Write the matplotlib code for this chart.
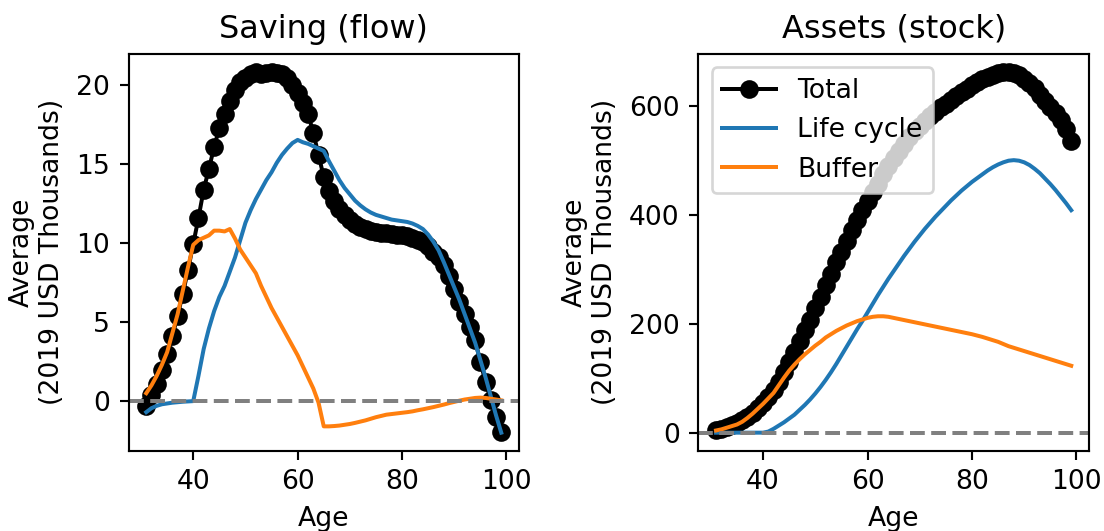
import matplotlib
matplotlib.use("Agg")
import matplotlib.pyplot as plt

ages = list(range(31, 100))

saving_total = [-0.3, 0.4, 1.1, 2.0, 3.0, 4.1, 5.4, 6.8, 8.3, 9.95,
                11.6, 13.4, 14.7, 16.1, 17.3, 18.2, 19.0, 19.7, 20.2, 20.5,
                20.75, 20.85, 20.75, 20.8, 20.85, 20.8, 20.7, 20.45, 20.05, 19.5,
                18.9, 18.2, 17.0, 15.6, 14.2, 13.3, 12.7, 12.2, 11.8, 11.5,
                11.25, 11.05, 10.9, 10.8, 10.72, 10.66, 10.62, 10.58, 10.55, 10.5,
                10.45, 10.35, 10.2, 10.05, 9.8, 9.45, 9.1, 8.6, 7.9, 7.1,
                6.3, 5.5, 4.7, 3.85, 2.5, 1.2, 0.1, -1.0, -1.95]

saving_lifecycle = [-0.7, -0.45, -0.3, -0.2, -0.15, -0.1, -0.07, -0.04, -0.02, 0.0,
                    1.6, 3.3, 4.6, 5.7, 6.6, 7.3, 8.2, 9.1, 10.2, 11.3,
                    12.1, 12.8, 13.4, 14.0, 14.5, 15.1, 15.6, 16.0, 16.35, 16.55,
                    16.4, 16.3, 16.15, 16.0, 15.85, 15.2, 14.6, 14.0, 13.5, 13.1,
                    12.7, 12.4, 12.15, 11.95, 11.8, 11.7, 11.6, 11.5, 11.45, 11.4,
                    11.35, 11.25, 11.1, 10.9, 10.55, 10.1, 9.55, 8.8, 8.0, 7.2,
                    6.4, 5.5, 4.6, 3.7, 2.6, 1.5, 0.3, -0.9, -2.0]

saving_buffer = [0.5, 1.0, 1.6, 2.3, 3.1, 4.3, 5.5, 7.0, 8.5, 9.9,
                 10.2, 10.35, 10.5, 10.8, 10.8, 10.75, 10.9, 10.3, 9.6, 9.1,
                 8.6, 8.1, 7.3, 6.6, 5.9, 5.3, 4.7, 4.1, 3.5, 2.9,
                 2.2, 1.5, 0.8, -0.1, -1.6, -1.6, -1.58, -1.55, -1.5, -1.45,
                 -1.38, -1.3, -1.22, -1.12, -1.02, -0.94, -0.86, -0.82, -0.78, -0.74,
                 -0.7, -0.65, -0.58, -0.52, -0.45, -0.38, -0.3, -0.22, -0.13, -0.05,
                 0.03, 0.1, 0.15, 0.2, 0.22, 0.2, 0.15, 0.1, 0.05]

assets_total = [4, 7, 10, 14, 18, 23, 29, 37, 46, 55,
                66, 79, 94, 111, 130, 149, 168, 188, 208, 229,
                250, 271, 292, 313, 333, 352, 372, 391, 409, 426,
                442, 458, 476, 491, 505, 518, 531, 543, 554, 564,
                573, 582, 590, 598, 605, 612, 619, 626, 632, 639,
                645, 650, 654, 658, 661, 663, 663, 661, 657, 651,
                643, 633, 621, 609, 598, 587, 574, 558, 537]

assets_lifecycle = [0, 0, 0, 0, 0, 0, 0, 0, 0, 0,
                    2, 7, 13, 19, 26, 33, 42, 51, 61, 72,
                    84, 97, 111, 126, 142, 158, 174, 190, 205, 221,
                    237, 253, 268, 283, 297, 311, 325, 338, 351, 363,
                    375, 386, 397, 407, 417, 427, 436, 445, 453, 461,
                    468, 475, 482, 488, 493, 497, 500, 501, 500, 497,
                    492, 485, 477, 467, 457, 446, 434, 422, 409]

assets_buffer = [4, 6, 9, 12, 15, 20, 27, 35, 44, 53,
                 63, 73, 87, 101, 114, 125, 135, 144, 152, 160,
                 167, 175, 181, 187, 192, 197, 201, 205, 208, 211,
                 213, 214, 214, 213, 211, 209, 207, 205, 203, 201,
                 199, 197, 195, 193, 191, 189, 187, 185, 183, 181,
                 178.5, 176, 173, 170, 167, 163, 159, 156, 153, 150,
                 147, 144, 141, 138, 135, 132, 129, 126, 123]

titles = ["Saving (flow)", "Assets (stock)"]
ylabel = "Average\n(2019 USD Thousands)"
xlabel = "Age"
legend_labels = ["Total", "Life cycle", "Buffer"]

DPI = 192
fig = plt.figure(figsize=(1104 / DPI, 531 / DPI), dpi=DPI)
ax1 = fig.add_axes([128.5 / 1104, 1 - 450.7 / 531, (519 - 128.5) / 1104, (450.7 - 54) / 531])
ax2 = fig.add_axes([698.3 / 1104, 1 - 450.7 / 531, (1089 - 698.3) / 1104, (450.7 - 54) / 531])

for ax, tot, lc, buf, title in [
    (ax1, saving_total, saving_lifecycle, saving_buffer, titles[0]),
    (ax2, assets_total, assets_lifecycle, assets_buffer, titles[1]),
]:
    ax.plot(ages, tot, "o-", color="black", label=legend_labels[0])
    ax.plot(ages, lc, color="#1f77b4", label=legend_labels[1])
    ax.plot(ages, buf, color="#ff7f0e", label=legend_labels[2])
    ax.axhline(0, color="gray", linestyle="--")
    ax.set_title(title)
    ax.set_xlabel(xlabel)
    ax.set_ylabel(ylabel)

ax1.set_yticks([0, 5, 10, 15, 20])
ax2.set_yticks([0, 200, 400, 600])
ax2.legend(loc="upper left")

fig.savefig("out.png", dpi=DPI)
